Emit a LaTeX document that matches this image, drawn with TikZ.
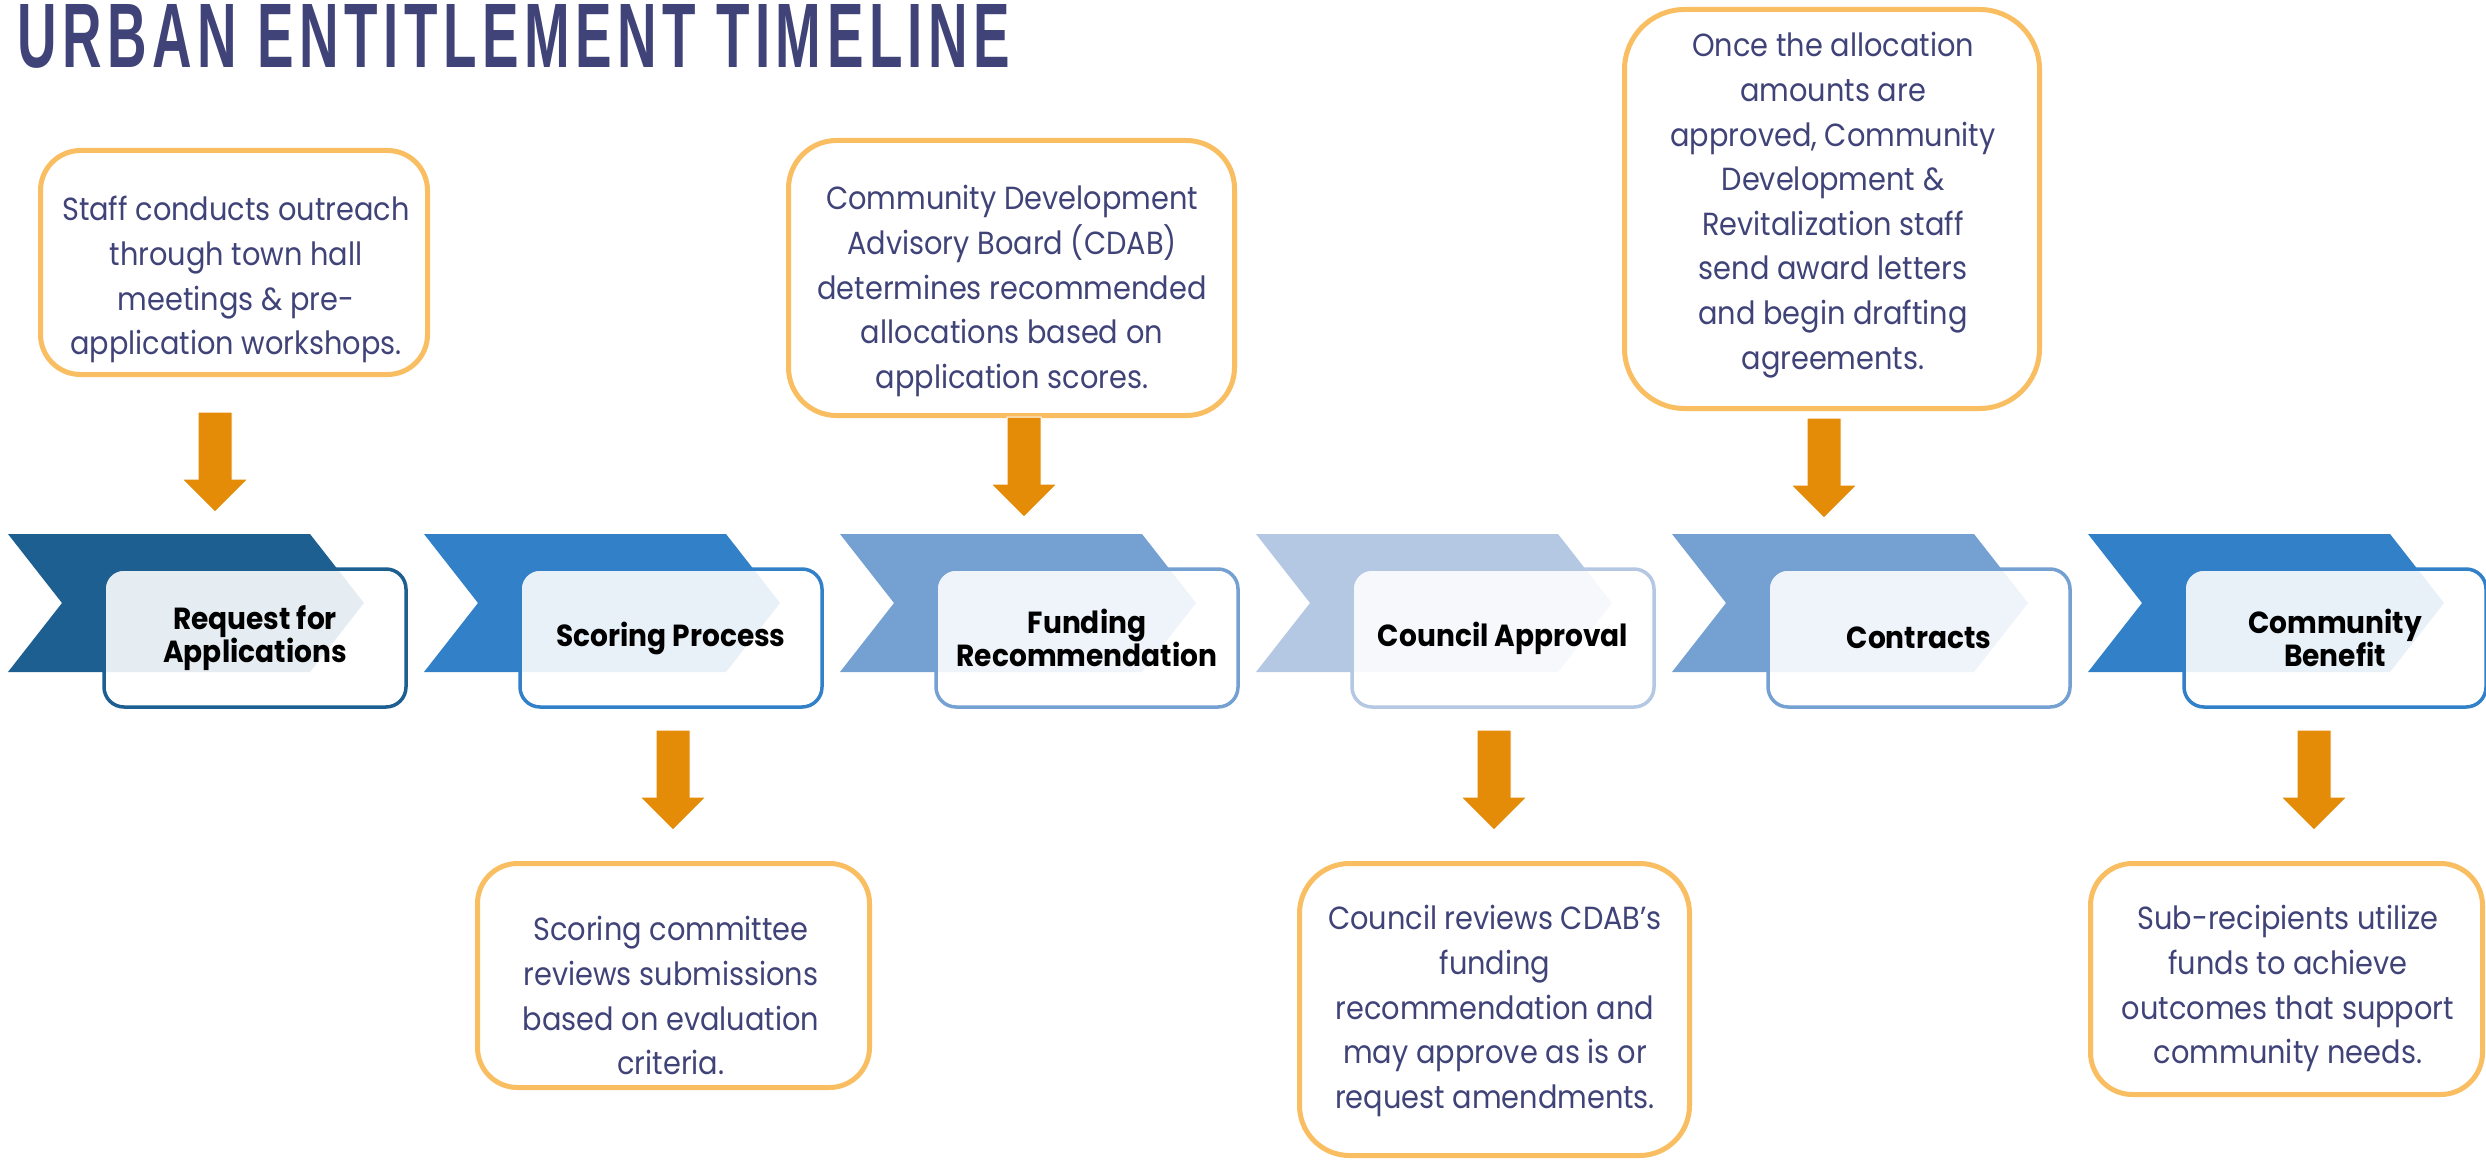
\documentclass[tikz,border=0pt]{standalone}
\usepackage{fontspec}
\usepackage{graphicx}
\setmainfont{Poppins}
\newfontfamily\titlefont{Liberation Sans}[LetterSpace=10]
\newfontfamily\notefont{Poppins}[FakeStretch=0.9]
\newfontfamily\labelfont{Poppins}[FakeStretch=0.92]
\usetikzlibrary{positioning}

\definecolor{inkblue}{RGB}{64,67,120}
\definecolor{navyA}{RGB}{29,95,145}
\definecolor{blueB}{RGB}{49,128,200}
\definecolor{blueC}{RGB}{116,161,210}
\definecolor{blueD}{RGB}{180,200,227}
\definecolor{noteline}{RGB}{250,190,98}
\definecolor{arrowfill}{RGB}{228,140,8}

\begin{document}
\begin{tikzpicture}[x=1pt,y=-1pt,
	stepbox/.style={draw=#1,fill=white,fill opacity=0.89,text opacity=1,line width=3.5pt,
		rounded corners=20pt,minimum width=302pt,minimum height=138pt,inner sep=0pt,
		align=center,font=\labelfont\fontsize{30.5}{33}\selectfont\bfseries},
	note/.style={draw=noteline,line width=5pt,fill=white,inner sep=0pt},
	notetext/.style={anchor=north,inner sep=0pt,align=center,text=inkblue,
		font=\notefont\fontsize{32}{44.6}\selectfont,execute at begin node=\strut},
	downarrow/.pic={
		\fill[arrowfill,draw=white,line width=1pt] (-17,0) -- (17,0) -- (17,67) -- (33,67)
			-- (0,100) -- (-33,67) -- (-17,67) -- cycle;}
	]

	\fill[white] (0,0) rectangle (2486,1161);
	\useasboundingbox (0,0) rectangle (2486,1161);

	% heading
	\node[anchor=base west,inner sep=0pt,text=inkblue] (title) at (17,68)
		{\resizebox{993pt}{63pt}{\titlefont\bfseries URBAN ENTITLEMENT TIMELINE}};

	% chevron band
	\foreach \x/\c in {8/navyA,424/blueB,840/blueC,1256/blueD,1672/blueC,2088/blueB}
		\fill[\c] (\x,534) -- ++(302,0) -- ++(54,69) -- ++(-54,69) -- ++(-302,0) -- ++(54,-69) -- cycle;

	% steps
	\node[stepbox=navyA] (rfa) at (255,638) {Request for\\Applications};
	\node[stepbox=blueB] (scoring) at (671,638) {Scoring Process};
	\node[stepbox=blueC] (funding) at (1087,638) {Funding\\Recommendation};
	\node[stepbox=blueD] (council) at (1503,638) {Council Approval};
	\node[stepbox=blueC] (contracts) at (1919,638) {Contracts};
	\node[stepbox=blueB] (benefit) at (2335,638) {Community\\Benefit};

	% notes above the band
	\node[note,rounded corners=40pt,minimum width=387pt,minimum height=224pt] (outreach) at (234,262.5) {};
	\node[note,rounded corners=48pt,minimum width=446pt,minimum height=275pt] (cdab) at (1011.5,278) {};
	\node[note,rounded corners=60pt,minimum width=415pt,minimum height=399pt] (award) at (1832,209) {};

	\node[notetext] (outreachtxt) at (236,196.3)
		{Staff conducts outreach\\through town hall\\meetings \& pre-\\application workshops.};
	\node[notetext] (cdabtxt) at (1012,185.3)
		{Community Development\\Advisory Board (CDAB)\\determines recommended\\allocations based on\\application scores.};
	\node[notetext] (awardtxt) at (1833,32.3)
		{Once the allocation\\amounts are\\approved, Community\\Development \&\\Revitalization staff\\send award letters\\and begin drafting\\agreements.};

	% notes below the band
	\node[note,rounded corners=40pt,minimum width=392pt,minimum height=224pt] (committee) at (673.5,975.5) {};
	\node[note,rounded corners=50pt,minimum width=390pt,minimum height=292pt] (review) at (1494.5,1009.5) {};
	\node[note,rounded corners=42pt,minimum width=392pt,minimum height=231pt] (subrecip) at (2286.5,979) {};

	\node[notetext] (committeetxt) at (671,916.3)
		{Scoring committee\\reviews submissions\\based on evaluation\\criteria.};
	\node[notetext] (reviewtxt) at (1495,905.3)
		{Council reviews CDAB’s\\funding\\recommendation and\\may approve as is or\\request amendments.};
	\node[notetext] (subreciptxt) at (2288,905.3)
		{Sub-recipients utilize\\funds to achieve\\outcomes that support\\community needs.};

	% block arrows
	\pic at (215,412) {downarrow};
	\pic at (1024,417) {downarrow};
	\pic at (1824,418) {downarrow};
	\pic at (673,730) {downarrow};
	\pic at (1494,730) {downarrow};
	\pic at (2314,730) {downarrow};

\end{tikzpicture}
\end{document}
